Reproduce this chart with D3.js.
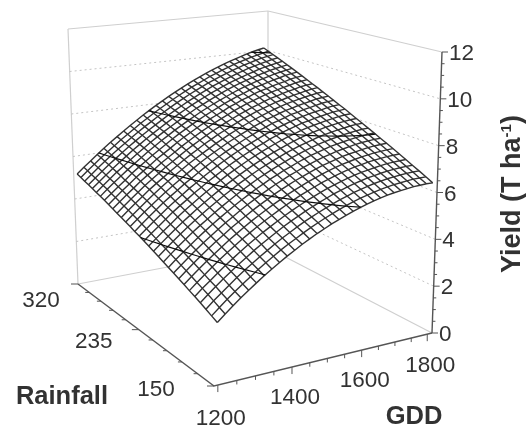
<!DOCTYPE html>
<html>
<head>
<meta charset="utf-8">
<script src="https://cdnjs.cloudflare.com/ajax/libs/d3/7.8.5/d3.min.js"></script>
<style>
body { margin: 0; background: #fff; }
text { font-family: "Liberation Sans", Arial, sans-serif; fill: #333; }
</style>
</head>
<body>
<svg id="chart" width="527" height="429"></svg>
<script>
const gddValues = [1200, 1220, 1240, 1260, 1280, 1300, 1320, 1340, 1360, 1380, 1400, 1420, 1440, 1460, 1480, 1500,
    1520, 1540, 1560, 1580, 1600, 1620, 1640, 1660, 1680, 1700, 1720, 1740, 1760, 1780, 1800];
const rainValues = [150, 155.67, 161.33, 167, 172.67, 178.33, 184, 189.67, 195.33, 201, 206.67, 212.33, 218, 223.67, 229.33,
    235, 240.67, 246.33, 252, 257.67, 263.33, 269, 274.67, 280.33, 286, 291.67, 297.33, 303, 308.67, 314.33, 320];
// yield, one row per rainfall value
const yieldGrid = [
    [2.50,2.77,3.03,3.28,3.52,3.75,3.97,4.18,4.38,4.58,4.76,4.94,5.10,5.26,5.40,5.54,5.66,5.78,5.89,5.99,6.08,6.16,6.23,6.29,6.34,6.38,6.41,6.44,6.45,6.46,6.45],
    [2.61,2.88,3.14,3.39,3.63,3.86,4.09,4.30,4.50,4.70,4.88,5.05,5.22,5.38,5.52,5.66,5.79,5.91,6.02,6.12,6.21,6.29,6.36,6.42,6.48,6.52,6.55,6.58,6.60,6.60,6.60],
    [2.73,3.00,3.25,3.50,3.75,3.98,4.20,4.41,4.61,4.81,5.00,5.17,5.34,5.50,5.64,5.78,5.91,6.03,6.14,6.24,6.34,6.42,6.49,6.56,6.61,6.66,6.69,6.72,6.74,6.75,6.75],
    [2.84,3.11,3.37,3.62,3.86,4.09,4.31,4.53,4.73,4.92,5.11,5.29,5.46,5.61,5.76,5.90,6.03,6.15,6.27,6.37,6.46,6.55,6.62,6.69,6.74,6.79,6.83,6.86,6.88,6.89,6.89],
    [2.95,3.22,3.47,3.72,3.97,4.20,4.42,4.64,4.84,5.04,5.22,5.40,5.57,5.73,5.88,6.02,6.15,6.27,6.39,6.49,6.59,6.67,6.75,6.82,6.87,6.92,6.96,7.00,7.02,7.03,7.04],
    [3.05,3.32,3.58,3.83,4.08,4.31,4.53,4.75,4.95,5.15,5.33,5.51,5.68,5.84,5.99,6.14,6.27,6.39,6.51,6.61,6.71,6.80,6.88,6.95,7.00,7.06,7.10,7.13,7.16,7.17,7.18],
    [3.16,3.43,3.69,3.94,4.18,4.41,4.64,4.85,5.06,5.26,5.44,5.62,5.79,5.95,6.11,6.25,6.38,6.51,6.62,6.73,6.83,6.92,7.00,7.07,7.13,7.19,7.23,7.27,7.29,7.31,7.32],
    [3.26,3.53,3.79,4.04,4.29,4.52,4.74,4.96,5.16,5.36,5.55,5.73,5.90,6.07,6.22,6.36,6.50,6.62,6.74,6.85,6.95,7.04,7.12,7.20,7.26,7.31,7.36,7.40,7.43,7.45,7.46],
    [3.36,3.63,3.89,4.14,4.39,4.62,4.84,5.06,5.26,5.47,5.66,5.84,6.01,6.17,6.33,6.47,6.61,6.73,6.86,6.96,7.07,7.16,7.24,7.32,7.38,7.44,7.49,7.53,7.56,7.58,7.59],
    [3.46,3.73,3.99,4.24,4.49,4.72,4.94,5.16,5.37,5.57,5.76,5.94,6.12,6.28,6.44,6.58,6.72,6.84,6.97,7.08,7.19,7.27,7.36,7.44,7.50,7.56,7.61,7.65,7.69,7.72,7.73],
    [3.56,3.83,4.09,4.34,4.59,4.82,5.04,5.26,5.47,5.67,5.86,6.05,6.22,6.39,6.54,6.69,6.83,6.95,7.08,7.19,7.30,7.39,7.48,7.56,7.62,7.68,7.74,7.78,7.82,7.85,7.86],
    [3.66,3.93,4.19,4.44,4.69,4.92,5.14,5.36,5.56,5.77,5.96,6.15,6.32,6.49,6.65,6.79,6.93,7.06,7.19,7.30,7.41,7.50,7.59,7.68,7.74,7.80,7.86,7.90,7.95,7.98,7.99],
    [3.75,4.02,4.28,4.53,4.78,5.01,5.24,5.46,5.67,5.87,6.06,6.24,6.42,6.59,6.75,6.90,7.04,7.17,7.29,7.41,7.52,7.62,7.71,7.79,7.86,7.93,7.98,8.03,8.07,8.10,8.12],
    [3.85,4.11,4.37,4.62,4.88,5.11,5.33,5.55,5.76,5.96,6.16,6.35,6.52,6.69,6.85,7.00,7.14,7.27,7.40,7.52,7.63,7.72,7.82,7.91,7.97,8.04,8.10,8.15,8.20,8.23,8.25],
    [3.94,4.21,4.46,4.71,4.97,5.20,5.42,5.65,5.85,6.06,6.25,6.44,6.62,6.79,6.95,7.10,7.24,7.37,7.51,7.62,7.74,7.83,7.93,8.02,8.08,8.15,8.21,8.27,8.32,8.35,8.38],
    [4.03,4.29,4.55,4.80,5.06,5.29,5.51,5.74,5.94,6.15,6.35,6.54,6.72,6.89,7.05,7.20,7.34,7.47,7.61,7.72,7.84,7.94,8.04,8.13,8.20,8.27,8.33,8.38,8.44,8.48,8.50],
    [4.11,4.38,4.64,4.89,5.15,5.38,5.60,5.83,6.03,6.24,6.44,6.63,6.81,6.98,7.14,7.29,7.44,7.57,7.71,7.83,7.95,8.04,8.14,8.24,8.30,8.38,8.44,8.50,8.56,8.60,8.62],
    [4.20,4.47,4.73,4.98,5.23,5.46,5.69,5.91,6.12,6.33,6.53,6.72,6.90,7.07,7.24,7.39,7.53,7.67,7.81,7.93,8.05,8.15,8.25,8.34,8.41,8.49,8.55,8.61,8.68,8.71,8.74],
    [4.28,4.55,4.81,5.07,5.31,5.55,5.78,6.00,6.21,6.42,6.61,6.80,6.98,7.16,7.32,7.48,7.63,7.77,7.90,8.02,8.14,8.25,8.35,8.44,8.53,8.60,8.67,8.73,8.78,8.83,8.86],
    [4.36,4.63,4.89,5.14,5.40,5.63,5.85,6.08,6.29,6.50,6.70,6.89,7.08,7.25,7.42,7.57,7.72,7.86,8.00,8.12,8.25,8.35,8.45,8.55,8.62,8.70,8.77,8.83,8.90,8.95,8.98],
    [4.44,4.71,4.97,5.22,5.48,5.71,5.93,6.17,6.37,6.58,6.79,6.98,7.16,7.34,7.51,7.66,7.81,7.95,8.09,8.21,8.34,8.44,8.55,8.65,8.72,8.81,8.88,8.94,9.02,9.06,9.09],
    [4.52,4.79,5.05,5.30,5.56,5.79,6.01,6.25,6.45,6.66,6.87,7.06,7.25,7.43,7.59,7.75,7.90,8.04,8.19,8.31,8.44,8.54,8.65,8.75,8.83,8.91,8.98,9.05,9.13,9.17,9.21],
    [4.60,4.87,5.13,5.38,5.64,5.87,6.09,6.33,6.53,6.74,6.95,7.15,7.33,7.51,7.68,7.84,7.98,8.12,8.28,8.40,8.53,8.63,8.75,8.85,8.92,9.01,9.09,9.15,9.23,9.28,9.32],
    [4.68,4.94,5.20,5.45,5.72,5.95,6.17,6.40,6.61,6.82,7.03,7.23,7.41,7.59,7.76,7.92,8.07,8.21,8.36,8.49,8.62,8.72,8.84,8.95,9.02,9.11,9.19,9.26,9.34,9.39,9.43],
    [4.75,5.02,5.28,5.54,5.78,6.02,6.25,6.48,6.69,6.90,7.10,7.30,7.48,7.66,7.83,8.00,8.15,8.30,8.44,8.57,8.70,8.82,8.93,9.03,9.13,9.21,9.29,9.37,9.43,9.49,9.54],
    [4.82,5.09,5.35,5.61,5.85,6.09,6.32,6.55,6.77,6.98,7.18,7.37,7.56,7.74,7.91,8.08,8.23,8.38,8.52,8.66,8.79,8.91,9.02,9.12,9.22,9.31,9.39,9.47,9.53,9.59,9.64],
    [4.89,5.16,5.42,5.68,5.92,6.16,6.40,6.62,6.84,7.05,7.25,7.45,7.64,7.82,7.99,8.16,8.31,8.46,8.61,8.74,8.87,8.99,9.11,9.21,9.31,9.40,9.49,9.57,9.63,9.69,9.75],
    [4.96,5.23,5.49,5.75,5.99,6.23,6.47,6.69,6.91,7.12,7.32,7.52,7.71,7.89,8.06,8.23,8.39,8.54,8.69,8.83,8.96,9.08,9.19,9.30,9.40,9.50,9.58,9.66,9.73,9.80,9.85],
    [5.02,5.29,5.56,5.81,6.06,6.30,6.53,6.76,6.98,7.19,7.39,7.59,7.78,7.96,8.14,8.31,8.47,8.62,8.77,8.91,9.04,9.16,9.28,9.39,9.49,9.59,9.67,9.76,9.83,9.89,9.95],
    [5.09,5.36,5.62,5.88,6.12,6.36,6.60,6.82,7.04,7.26,7.46,7.66,7.85,8.03,8.21,8.38,8.54,8.70,8.84,8.98,9.12,9.24,9.36,9.47,9.58,9.67,9.76,9.85,9.92,9.99,10.05],
    [5.15,5.42,5.68,5.94,6.19,6.43,6.66,6.89,7.11,7.32,7.53,7.73,7.92,8.10,8.28,8.45,8.61,8.77,8.92,9.06,9.20,9.32,9.44,9.56,9.66,9.76,9.85,9.94,10.02,10.09,10.15]
];
const gddTicks = d3.range(1200, 1801, 50);
const rainTicks = d3.range(150, 321, 17);
const yieldTicks = d3.range(0, 12.1, 0.5);
const gddLabels = [1200, 1400, 1600, 1800];
const rainLabels = [150, 235, 320];
const yieldLabels = [0, 2, 4, 6, 8, 10, 12];
const contourLevels = [4, 6, 7.7, 10];

const nCols = gddValues.length, nRows = rainValues.length;

// corners of the plot box on screen: front, right, back, left
const floorCorners = [[214, 386], [432, 333], [268, 248], [78, 284]];
const topCorners = [[211, 85], [442, 52], [268, 11], [68, 29]];

function homography(q) {
    const [[x0, y0], [x1, y1], [x2, y2], [x3, y3]] = q;
    const dx1 = x1 - x2, dx2 = x3 - x2, sx = x0 - x1 + x2 - x3;
    const dy1 = y1 - y2, dy2 = y3 - y2, sy = y0 - y1 + y2 - y3;
    const den = dx1 * dy2 - dx2 * dy1;
    const g = (sx * dy2 - dx2 * sy) / den, h = (dx1 * sy - sx * dy1) / den;
    const a = x1 - x0 + g * x1, b = x3 - x0 + h * x3;
    const d = y1 - y0 + g * y1, e = y3 - y0 + h * y3;
    return (u, v) => {
        const w = g * u + h * v + 1;
        return [(a * u + b * v + x0) / w, (d * u + e * v + y0) / w];
    };
}
const floorMap = homography(floorCorners), topMap = homography(topCorners);

const gddScale = d3.scaleLinear().domain([1190, 1815]).range([0, 1]);
const rainScale = d3.scaleLinear().domain([150, 320]).range([0, 1]);
const yieldScale = d3.scaleLinear().domain([0, 12]).range([0, 1]);

function project(u, v, w) {
    const p = floorMap(u, v), q = topMap(u, v);
    return [p[0] + (q[0] - p[0]) * w, p[1] + (q[1] - p[1]) * w];
}
const gridPoint = (i, j) => project(gddScale(gddValues[i]), rainScale(rainValues[j]), yieldScale(yieldGrid[j][i]));

const svg = d3.select("#chart");
svg.append("defs").append("filter").attr("id", "soft")
    .append("feGaussianBlur").attr("stdDeviation", 0.55);
const g = svg.append("g").attr("filter", "url(#soft)");
const line = d3.line();

// walls
const walls = g.append("g").attr("fill", "none").attr("stroke", "#cfcfcf").attr("stroke-width", 1.2);
[[[0, 1, 0], [0, 1, 1]], [[1, 1, 0], [1, 1, 1]], [[0, 1, 1], [1, 1, 1]], [[1, 0, 1], [1, 1, 1]],
 [[0, 1, 0], [1, 1, 0]], [[1, 0, 0], [1, 1, 0]]].forEach(s => {
    walls.append("path").attr("d", line(s.map(p => project(...p))));
});
const dots = g.append("g").attr("fill", "none").attr("stroke", "#c4c4c4").attr("stroke-dasharray", "2,3");
yieldLabels.slice(1, -1).forEach(z => {
    const w = yieldScale(z);
    dots.append("path").attr("d", line([[0, 1, w], [1, 1, w], [1, 0, w]].map(p => project(...p))));
});

// surface, white underneath so the walls don't show through
const outline = [
    ...d3.range(nCols).map(i => gridPoint(i, 0)),
    ...d3.range(nRows).map(j => gridPoint(nCols - 1, j)),
    ...d3.range(nCols).map(i => gridPoint(nCols - 1 - i, nRows - 1)),
    ...d3.range(nRows).map(j => gridPoint(0, nRows - 1 - j))
];
g.append("path").attr("d", line(outline) + "Z").attr("fill", "#fff");
const mesh = g.append("g").attr("fill", "none").attr("stroke", "#333").attr("stroke-width", 1.4);
d3.range(nRows).forEach(j => mesh.append("path").attr("d", line(d3.range(nCols).map(i => gridPoint(i, j)))));
d3.range(nCols).forEach(i => mesh.append("path").attr("d", line(d3.range(nRows).map(j => gridPoint(i, j)))));

// contour lines on the surface
const contours = d3.contours().size([nCols, nRows]).thresholds(contourLevels)(yieldGrid.flat());
const inGrid = c => c[0] >= .5 && c[0] <= nCols - .5 && c[1] >= .5 && c[1] <= nRows - .5;
const gridToScreen = (c, z) => {
    const gdd = gddValues[0] + (c[0] - .5) * (gddValues[1] - gddValues[0]);
    const rain = rainValues[0] + (c[1] - .5) * (rainValues[1] - rainValues[0]);
    return project(gddScale(gdd), rainScale(rain), yieldScale(z));
};
contours.forEach(c => c.coordinates.forEach(poly => poly.forEach(ring => {
    const contourLine = d3.line().defined(inGrid)
        .x(p => gridToScreen(p, c.value)[0])
        .y(p => gridToScreen(p, c.value)[1]);
    g.append("path").attr("d", contourLine(ring)).attr("fill", "none").attr("stroke", "#111").attr("stroke-width", 1.2);
})));

// axes
const axes = g.append("g").attr("fill", "none").attr("stroke", "#555").attr("stroke-width", 1.4);
axes.append("path").attr("d", line([project(0, 1, 0), project(0, 0, 0), project(1, 0, 0)]));
axes.append("path").attr("d", line([project(1, 0, 0), project(1, 0, 1)]));
axes.selectAll(".gt").data(gddTicks).join("path").attr("stroke-width", 1)
    .attr("d", d => { const p = project(gddScale(d), 0, 0); return line([p, [p[0], p[1] + (d % 200 ? 4 : 7)]]); });
axes.selectAll(".rt").data(rainTicks).join("path").attr("stroke-width", 1)
    .attr("d", d => { const p = project(0, rainScale(d), 0); return line([p, [p[0] - (rainLabels.includes(d) ? 7 : 4), p[1]]]); });
axes.selectAll(".yt").data(yieldTicks).join("path").attr("stroke-width", 1)
    .attr("d", d => { const p = project(1, 0, yieldScale(d)); return line([p, [p[0] + (d % 2 ? 3 : 6), p[1]]]); });

const labels = g.append("g").attr("font-size", 22.5);
yieldLabels.forEach(z => {
    const p = project(1, 0, yieldScale(z));
    labels.append("text").attr("x", p[0] + 7).attr("y", p[1] + 8).text(z);
});
const gddDrop = { 1200: 40, 1400: 37, 1600: 37, 1800: 38 };
gddLabels.forEach(d => {
    const p = project(gddScale(d), 0, 0);
    labels.append("text").attr("x", p[0] + 3).attr("y", p[1] + gddDrop[d]).attr("text-anchor", "middle").text(d);
});
const rainOffsets = { 320: [-37, 23], 235: [-45, 18], 150: [-58, 10] };
rainLabels.forEach(d => {
    const p = project(0, rainScale(d), 0);
    labels.append("text").attr("x", p[0] + rainOffsets[d][0]).attr("y", p[1] + rainOffsets[d][1])
        .attr("text-anchor", "middle").text(d);
});

const titles = g.append("g").attr("font-size", 25.5).attr("font-weight", "bold");
titles.append("text").attr("x", 62).attr("y", 404).attr("text-anchor", "middle").text("Rainfall");
titles.append("text").attr("x", 414).attr("y", 423.5).attr("text-anchor", "middle").text("GDD");
const yt = titles.append("text").attr("transform", "translate(520,194) rotate(-90)").attr("text-anchor", "middle").attr("font-size", 27);
yt.append("tspan").text("Yield (T ha");
yt.append("tspan").attr("dy", -9).attr("font-size", 15).text("-1");
yt.append("tspan").attr("dy", 9).text(")");
</script>
</body>
</html>
